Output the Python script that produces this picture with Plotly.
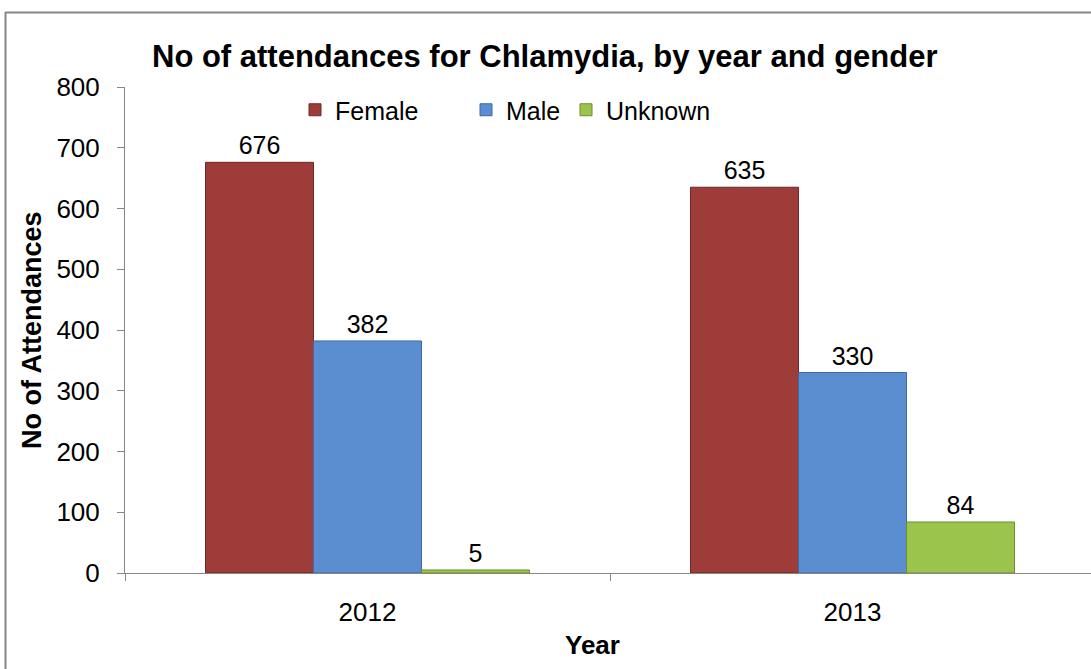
import plotly.graph_objects as go

years = ["2012", "2013"]
female = [676, 635]
male = [382, 330]
unknown = [5, 84]
series_names = ["Female", "Male", "Unknown"]
y_ticks = [0, 100, 200, 300, 400, 500, 600, 700, 800]

FONT = "Liberation Sans, Arial, sans-serif"
W, H = 1091, 669
L, T, B = 125, 87, 96
pw = W - L
ph = H - T - B
CAT = 485.0  # pixels per category

colors = ["#9E3C39", "#5A8ED1", "#9BC44C"]
edges = ["#6E2826", "#3D6AA3", "#6B8F2E"]

xs = list(range(len(years)))
fig = go.Figure()
for i, (name, vals) in enumerate(zip(series_names, [female, male, unknown])):
    fig.add_trace(go.Bar(
        x=xs, y=vals, name=name,
        marker=dict(color=colors[i], line=dict(color=edges[i], width=1)),
        text=[str(v) for v in vals], textposition="outside",
        textfont=dict(family=FONT, size=25, color="#000000"),
        cliponaxis=False,
        legend=["legend", "legend2", "legend3"][i],
    ))

xmax = -0.5 + pw / CAT

leg_common = dict(orientation="h", font=dict(family=FONT, size=25, color="#000"),
                  bgcolor="rgba(0,0,0,0)", yanchor="middle", xanchor="left",
                  itemwidth=30, tracegroupgap=0)
def lx(px):
    return (px - L) / pw
def ly(py):
    return (H - B - py) / ph

fig.update_layout(
    width=W, height=H,
    margin=dict(l=L, r=0, t=T, b=B),
    paper_bgcolor="white", plot_bgcolor="white",
    barmode="group", bargap=0.332, bargroupgap=0,
    showlegend=True,
    legend=dict(x=lx(295), y=ly(110), **leg_common),
    legend2=dict(x=lx(466), y=ly(110), **leg_common),
    legend3=dict(x=lx(566), y=ly(110), **leg_common),
    xaxis=dict(
        range=[-0.5, xmax], tickvals=xs, ticktext=years,
        ticks="", showline=True, linecolor="#868686", linewidth=1,
        showgrid=False, zeroline=False, ticklabelstandoff=16,
        tickfont=dict(family=FONT, size=26, color="#000"),
        minor=dict(tickvals=[-0.5, 0.5, 1.5], ticks="outside", ticklen=7,
                   tickcolor="#868686", showgrid=False),
    ),
    yaxis=dict(
        range=[0, 800], tickvals=y_ticks, ticks="outside", ticklen=7,
        tickcolor="#868686", showline=True, linecolor="#868686", linewidth=1,
        showgrid=False, zeroline=False, ticklabelstandoff=12,
        tickfont=dict(family=FONT, size=26, color="#000"),
    ),
    annotations=[
        dict(text="<b>No of attendances for Chlamydia, by year and gender</b>",
             xref="paper", yref="paper", x=lx(545), y=ly(57), xanchor="center", yanchor="middle",
             showarrow=False, font=dict(family=FONT, size=31, color="#000")),
        dict(text="<b>No of Attendances</b>", textangle=-90,
             xref="paper", yref="paper", x=lx(32), y=ly(330), xanchor="center", yanchor="middle",
             showarrow=False, font=dict(family=FONT, size=27, color="#000")),
        dict(text="<b>Year</b>",
             xref="paper", yref="paper", x=lx(592), y=ly(645), xanchor="center", yanchor="middle",
             showarrow=False, font=dict(family=FONT, size=26, color="#000")),
    ],
    shapes=[
        dict(type="line", xref="paper", yref="paper", x0=lx(5), x1=lx(W + 5), y0=ly(12.5), y1=ly(12.5),
             line=dict(color="#868686", width=2)),
        dict(type="line", xref="paper", yref="paper", x0=lx(5.5), x1=lx(5.5), y0=ly(12), y1=ly(H + 5),
             line=dict(color="#868686", width=2)),
    ],
)

fig.write_html("out.html", config={"displayModeBar": False},
               post_script="document.body.style.margin='0';document.body.style.overflow='hidden';")
